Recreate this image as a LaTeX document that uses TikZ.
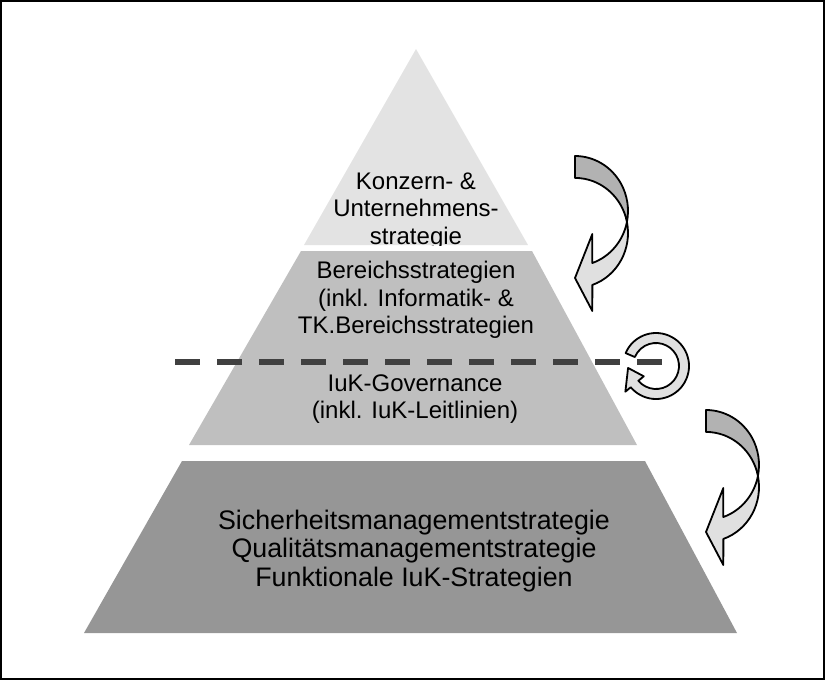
\documentclass[tikz,border=0pt]{standalone}
\usepackage{fontspec}
\setmainfont{Liberation Sans}
\definecolor{tierA}{gray}{0.89}
\definecolor{tierB}{gray}{0.75}
\definecolor{tierC}{gray}{0.59}
\definecolor{arrowBack}{gray}{0.70}
\definecolor{arrowFront}{gray}{0.88}
\definecolor{dashgray}{gray}{0.25}
% curved arrow: tail at the top-left, bending right and pointing back left
\newcommand\bendarrow[2]{%
  \begin{scope}[shift={(#1,#2)}]
    \filldraw[arrowline, fill=arrowBack]
      (0,0) arc[start angle=-90, end angle=11.5, x radius=53, y radius=55]
            arc[start angle=-11.5, end angle=-90, x radius=53, y radius=55] -- cycle;
    \filldraw[arrowline, fill=arrowFront]
      (51.94,66) arc[start angle=-11.5, end angle=70.9, x radius=53, y radius=55]
      -- (17.34,155) -- (0,122) -- (17.34,78) -- (17.34,107)
      arc[start angle=70.9, end angle=11.5, x radius=53, y radius=55] -- cycle;
  \end{scope}}
\begin{document}
\begin{tikzpicture}[x=1pt, y=-1pt,
  arrowline/.style={draw=black, line width=1.8pt, line join=round},
  label/.style={align=center, inner sep=0pt, text=black},
  uppertext/.style={label, font=\fontsize{24}{27.5}\selectfont},
  lowertext/.style={label, font=\fontsize{26.8}{28.5}\selectfont},
]
\useasboundingbox (0,0) rectangle (825,680);
\draw[line width=1.2pt] (1,1) rectangle (824,679);

% pyramid tiers
\fill[tierA] (416,49) -- (528,245) -- (304,245) -- cycle;
\fill[tierB] (301,251) -- (532,251) -- (637,445) -- (189,445) -- cycle;
\fill[tierC] (182,461) -- (645,461) -- (737,633) -- (84,633) -- cycle;

% top tier text, cut off at the tier's base
\begin{scope}
  \clip (416,49) -- (528,245) -- (304,245) -- cycle;
  \node[uppertext] (konzern) at (416,211) {Konzern- \&\\Unternehmens-\\strategie};
\end{scope}

\node[uppertext] (bereich) at (416,300) {Bereichsstrategien\\(inkl. Informatik- \&\\TK.Bereichsstrategien};
\node[uppertext] (iuk) at (415,399) {IuK-Governance\\(inkl. IuK-Leitlinien)};
\node[lowertext] (basis) at (414,551) {Sicherheitsmanagementstrategie\\Qualitätsmanagementstrategie\\Funktionale IuK-Strategien};

% bent arrows on the right
\bendarrow{575}{156}
\bendarrow{706}{410}

% circular arrow
\begin{scope}[shift={(656,366)}]
  \filldraw[arrowline, fill=arrowFront]
    (203:33) arc[start angle=203, end angle=500, radius=33]
    -- (500:40) -- (536:28) -- (500:16) -- (500:23)
    arc[start angle=500, end angle=203, radius=23] -- cycle;
\end{scope}

% dashed separator
\coordinate (dashL) at (175,362);
\coordinate (dashR) at (662,362);
\draw[dashgray, line width=6pt, dash pattern=on 25pt off 17pt] (dashL) -- (dashR);
\end{tikzpicture}
\end{document}
